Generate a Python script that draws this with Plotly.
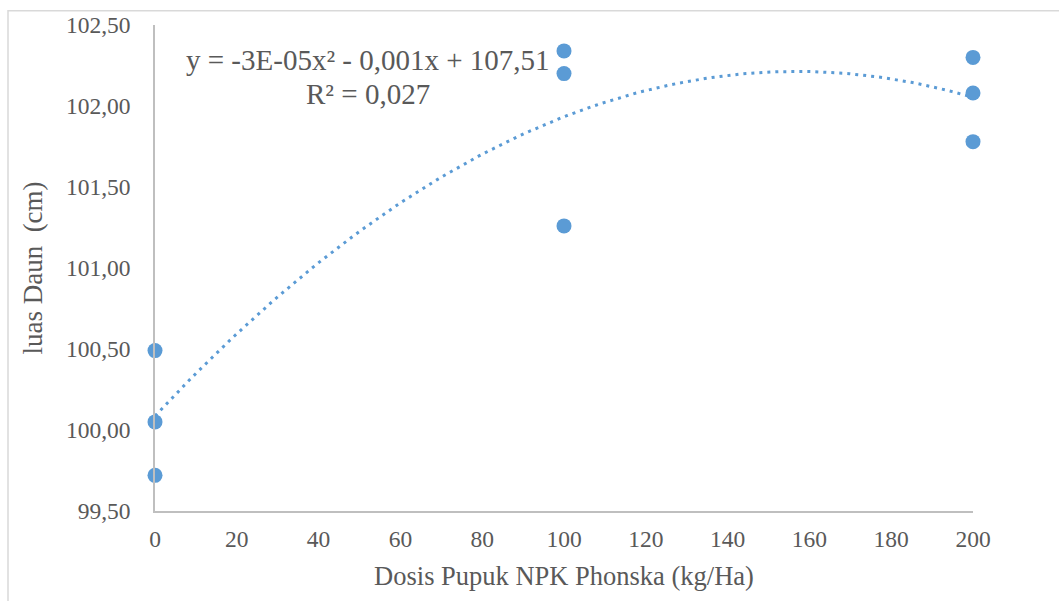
import numpy as np
import plotly.graph_objects as go

# Data
dosis = [0, 0, 0, 100, 100, 100, 200, 200, 200]
luas_daun = [100.49, 100.05, 99.72, 102.34, 102.20, 101.26, 102.30, 102.08, 101.78]
x_ticks = [0, 20, 40, 60, 80, 100, 120, 140, 160, 180, 200]
y_ticks = [99.5, 100.0, 100.5, 101.0, 101.5, 102.0, 102.5]
eq_line1 = "y = -3E-05x² - 0,001x + 107,51"
eq_line2 = "R² = 0,027"

BLUE = "#5B9BD5"
TEXT = "#595959"
FONT = "Liberation Serif"

# Polynomial (order 2) trendline fitted from the data
coef = np.polyfit(dosis, luas_daun, 2)
xt = np.linspace(0, 200, 120)
yt = np.polyval(coef, xt)

fig = go.Figure()
fig.add_trace(go.Scatter(x=xt, y=yt, mode="lines",
                         line=dict(color=BLUE, width=3, dash="3px,5px"),
                         hoverinfo="skip", cliponaxis=False))
fig.add_trace(go.Scatter(x=dosis, y=luas_daun, mode="markers",
                         marker=dict(color=BLUE, size=15),
                         cliponaxis=False))

fig.update_layout(
    width=1059, height=601,
    margin=dict(l=155, r=86, t=20, b=90),
    paper_bgcolor="white", plot_bgcolor="white",
    showlegend=False,
    separators=",.",
    font=dict(family=FONT, color=TEXT, size=23),
)
fig.update_xaxes(range=[0, 200], tickvals=x_ticks, showgrid=False, zeroline=False,
                 showline=True, linecolor="#BFBFBF", linewidth=1.5, ticks="",
                 ticklabelstandoff=6, tickfont=dict(size=23.5, color=TEXT, family=FONT),
                 title=dict(text="Dosis Pupuk NPK Phonska (kg/Ha)", standoff=15,
                            font=dict(size=26.5, color=TEXT, family=FONT)))
fig.update_yaxes(range=[99.5, 102.5], tickvals=y_ticks, tickformat=".2f",
                 showgrid=False, zeroline=False,
                 showline=True, linecolor="#BFBFBF", linewidth=1.5, ticks="",
                 ticklabelstandoff=18, tickfont=dict(size=23.5, color=TEXT, family=FONT),
                 title=dict(text="luas Daun  (cm)", standoff=15,
                            font=dict(size=27, color=TEXT, family=FONT)))

fig.add_annotation(x=0.2604, y=0.927, xref="paper", yref="paper", text=eq_line1,
                   showarrow=False, xanchor="center", yanchor="middle",
                   font=dict(size=29, color=TEXT, family=FONT))
fig.add_annotation(x=0.2604, y=0.858, xref="paper", yref="paper", text=eq_line2,
                   showarrow=False, xanchor="center", yanchor="middle",
                   font=dict(size=29, color=TEXT, family=FONT))

# chart frame (partly outside the visible area as in the reference)
fig.add_shape(type="rect", xref="paper", yref="paper",
              x0=-0.1797, x1=1.2, y0=-0.25, y1=1.0295,
              line=dict(color="#D9D9D9", width=1.5), layer="below")

fig.write_html("out.html")
